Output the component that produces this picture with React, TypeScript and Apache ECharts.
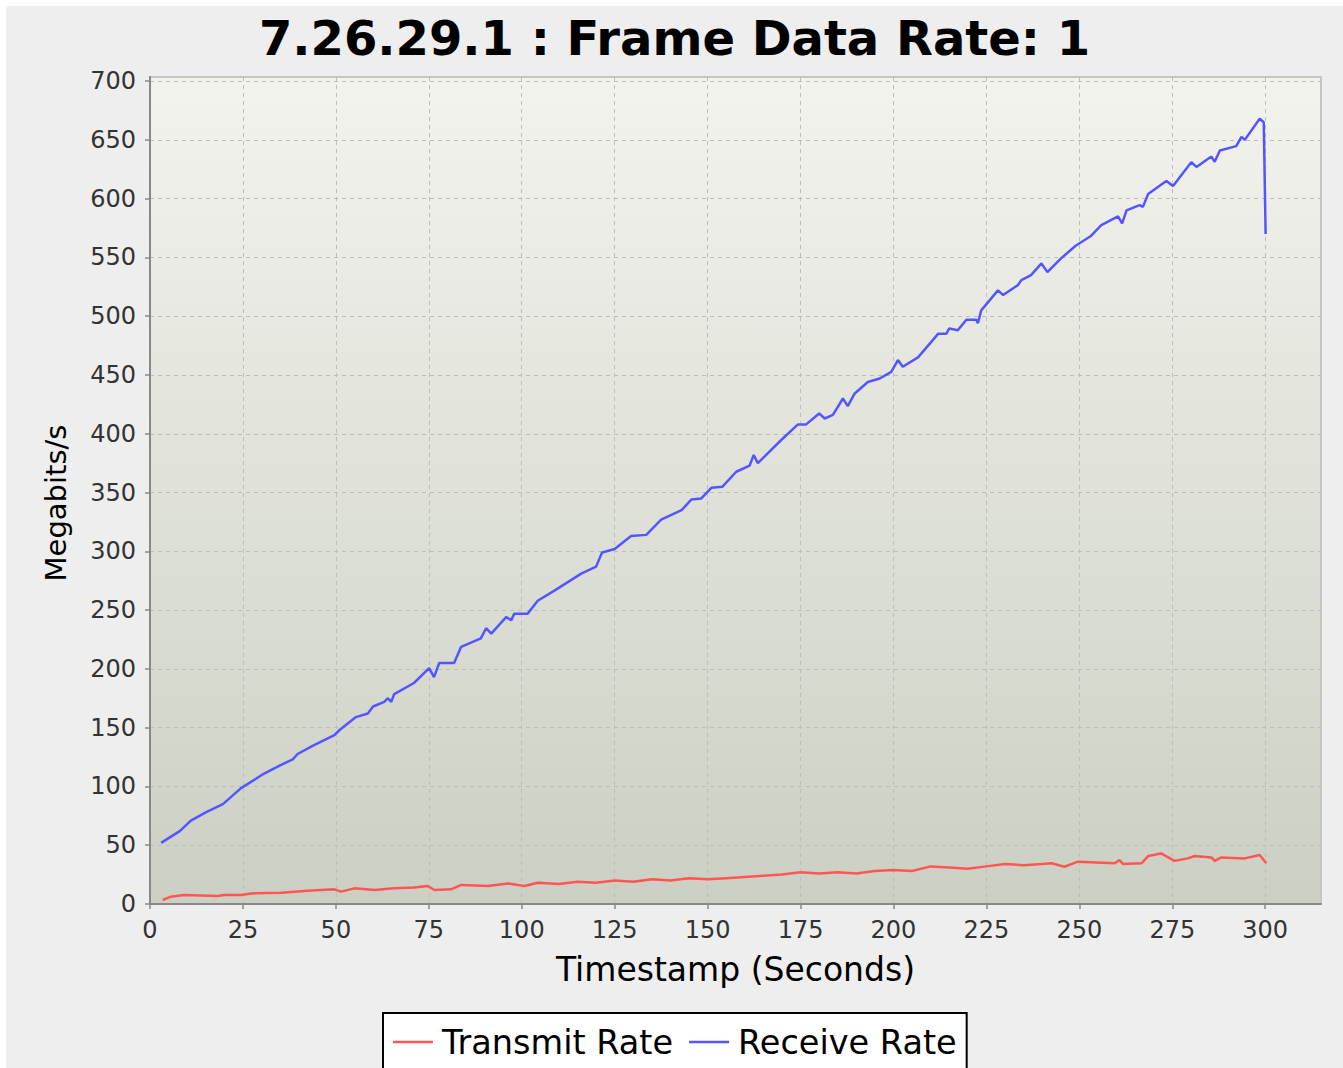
import React, { useEffect, useRef } from "react";
import * as echarts from "echarts";

const titleText = "7.26.29.1 : Frame Data Rate: 1";
const xAxisName = "Timestamp (Seconds)";
const yAxisName = "Megabits/s";
const seriesNames = ["Transmit Rate", "Receive Rate"];
const xTicks = [0, 25, 50, 75, 100, 125, 150, 175, 200, 225, 250, 275, 300];
const yTicks = [0, 50, 100, 150, 200, 250, 300, 350, 400, 450, 500, 550, 600, 650, 700];

const receiveT = [3, 5, 8, 11, 15, 19.6, 24.5, 30.7, 35, 38.4, 39.7, 44, 49.6, 51, 55.4, 58.6, 60, 63, 64, 64.9, 65.7, 71, 75.1, 76.4, 77.8, 81.8, 83.7, 89, 90.4, 91.8, 95.8, 97.2, 98, 101.6, 104.3, 109, 116, 120, 121.6, 125, 129.4, 133.5, 137.5, 143, 145.6, 148.3, 151, 154, 157.7, 161.3, 162.4, 163.5, 169.8, 174.3, 176.5, 180, 181.5, 183.7, 186.4, 187.7, 189.5, 193.1, 196.3, 199.4, 201.2, 202.5, 206.6, 212, 214.2, 215, 217.3, 219.6, 222.3, 222.7, 223.6, 228.1, 229.5, 233.5, 234.4, 237, 239.8, 241.4, 245, 249, 253, 255.9, 260.4, 261.5, 262.7, 266.2, 267.1, 268.5, 273.4, 275.2, 280.1, 281.5, 285.5, 286.4, 287.8, 292.2, 293.6, 294.5, 298.5, 299.6, 300.1];
const receiveV = [52, 56, 62, 71, 78, 85, 98.6, 111, 118, 123, 127.6, 135, 143.7, 148, 159, 162, 168, 172, 175, 172, 178.6, 188, 200.7, 193, 205, 205, 218.8, 226, 234.6, 230, 244, 241.5, 247, 247, 258, 267, 281, 287, 299, 302, 313, 314, 327, 335, 344, 345, 354, 355, 367.7, 373, 382, 375, 394.7, 408, 408, 417.3, 413, 416, 430, 423.5, 434, 444, 447, 452.7, 462.7, 457, 465, 485, 485, 489.6, 488, 497, 497, 494, 505, 522, 518, 526.5, 530.7, 535, 545, 537.5, 549, 560, 568, 577.5, 585, 579, 590, 594.5, 593, 604, 615, 610.7, 631, 627, 635.8, 631.4, 641, 644.7, 652.6, 650, 668, 665, 570];

const transmitT = [3.4, 5.6, 9.2, 18.2, 20, 24.5, 27.2, 35.3, 42.4, 49.6, 51.4, 55, 60.4, 65.7, 71.1, 74.7, 76.5, 81, 83.7, 90.9, 96.3, 100.7, 104.3, 110, 115, 120, 125, 130, 135, 140, 145, 150, 155, 160, 165, 170, 175, 180, 185, 190, 195, 200, 205, 210, 215, 220, 225, 230, 235, 240, 242.5, 246, 249.6, 259.5, 260.8, 261.8, 266.7, 268.5, 272, 275.6, 279.2, 281, 285.5, 286.4, 288.2, 294.5, 298.5, 300.3];
const transmitV = [3.4, 6.2, 7.7, 6.8, 7.7, 7.7, 9, 9.6, 11.3, 12.5, 10.5, 13.3, 11.9, 13.3, 14.1, 15.3, 11.9, 12.5, 16.2, 15.3, 17.5, 15.3, 18.1, 17, 19, 18, 20, 19, 21, 20, 22, 21, 22, 23, 24, 25, 27, 26, 27, 26, 28, 29, 28, 32, 31, 30, 32, 34, 33, 34, 34.6, 31.7, 36, 34.6, 37.4, 34, 34.6, 40.8, 43, 36.7, 38.8, 40.8, 39.6, 36.7, 39.6, 38.8, 41.7, 34.6];

const FONT = "DejaVu Sans";

export default function App() {
  const ref = useRef<HTMLDivElement>(null);
  useEffect(() => {
    if (!ref.current) return;
    const chart = echarts.init(ref.current, null, { renderer: "svg" });
    const axisCommon = {
      type: "value" as const,
      axisLine: { show: true, lineStyle: { color: "#888888", width: 2 } },
      axisTick: { show: true, inside: false, length: 5, lineStyle: { color: "#888888", width: 1.5 } },
      splitLine: { show: true, lineStyle: { color: "#bdbdbd", width: 1, type: [4, 4] as any } },
    };
    chart.setOption({
      animation: false,
      backgroundColor: "#eeeeee",
      title: {
        text: titleText,
        left: "center",
        top: 3,
        textStyle: { fontFamily: FONT, fontSize: 48, fontWeight: "bold", color: "#000" },
      },
      legend: {
        data: seriesNames,
        left: 377,
        top: 1007,
        orient: "horizontal",
        icon: "rect",
        itemWidth: 40,
        itemHeight: 2.5,
        itemGap: 16,
        padding: [12, 10, 30, 10],
        borderColor: "#000",
        borderWidth: 2,
        backgroundColor: "#ffffff",
        textStyle: { fontFamily: FONT, fontSize: 33.5, color: "#000", padding: [0, 0, 0, 4] },
      },
      grid: {
        show: true,
        left: 144,
        right: 22,
        top: 71,
        bottom: 164,
        borderColor: "#c6c6c6",
        borderWidth: 2,
        backgroundColor: new echarts.graphic.LinearGradient(0, 0, 0, 1, [
          { offset: 0, color: "#f3f3ee" },
          { offset: 1, color: "#cbd0c3" },
        ]),
      },
      xAxis: {
        ...axisCommon,
        min: 0,
        max: 315,
        interval: 25,
        name: xAxisName,
        nameLocation: "middle",
        nameGap: 49,
        nameTextStyle: { fontFamily: FONT, fontSize: 33, color: "#000" },
        axisTick: { ...axisCommon.axisTick, customValues: xTicks },
        axisLabel: {
          customValues: xTicks,
          margin: 14,
          fontFamily: FONT,
          fontSize: 24,
          color: "#333",
          formatter: (v: number) => (v % 25 === 0 && v <= 300 ? String(v) : ""),
        },
      },
      yAxis: {
        ...axisCommon,
        min: 0,
        max: 703.5,
        interval: 50,
        axisTick: { ...axisCommon.axisTick, customValues: yTicks },
        axisLabel: {
          customValues: yTicks,
          margin: 14,
          fontFamily: FONT,
          fontSize: 24,
          color: "#333",
          formatter: (v: number) => (v % 50 === 0 && v <= 700 ? String(v) : ""),
        },
      },
      graphic: [
        {
          type: "text",
          x: 50,
          y: 497,
          rotation: Math.PI / 2,
          style: {
            text: yAxisName,
            fontFamily: FONT,
            fontSize: 29,
            fill: "#000",
            align: "center",
            verticalAlign: "middle",
          },
        },
      ],
      series: [
        {
          name: seriesNames[0],
          type: "line",
          symbol: "none",
          color: "#ff5555",
          lineStyle: { color: "#ff5555", width: 2.5 },
          data: transmitT.map((t, i) => [t, transmitV[i]]),
        },
        {
          name: seriesNames[1],
          type: "line",
          symbol: "none",
          color: "#5555ff",
          lineStyle: { color: "#5555ff", width: 2.5 },
          data: receiveT.map((t, i) => [t, receiveV[i]]),
        },
      ],
    });
    return () => chart.dispose();
  }, []);
  return (
    <div
      ref={ref}
      style={{ position: "absolute", left: 6, top: 6, width: 1337, height: 1062 }}
    />
  );
}
